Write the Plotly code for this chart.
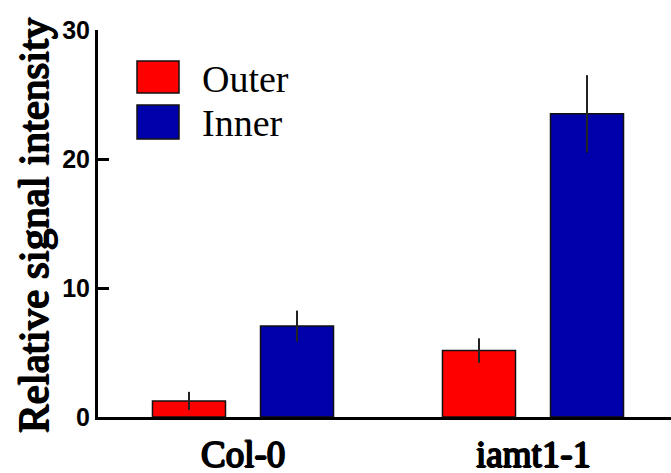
import plotly.graph_objects as go

categories = ["Col-0", "iamt1-1"]
series_names = ["Outer", "Inner"]
outer_values = [1.25, 5.15]
outer_errors = [0.7, 0.95]
inner_values = [7.05, 23.5]
inner_errors = [1.2, 3.0]
colors = ["#FF0000", "#0000AA"]
y_ticks = [0, 10, 20, 30]

W, H = 671, 473
ML, MR, MT, MB = 98, 0, 30, 56
PW, PH = W - ML - MR, H - MT - MB

def px_x(px):
    return (px - ML) / PW

def px_y(py):
    return (H - MB - py) / PH

# faux-bold for the serif face (its bold face is not picked up reliably)
BOLD_SHADOW = "1px 0px 0px black, -1px 0px 0px black, 0px 0.6px 0px black, 0px -0.6px 0px black"

fig = go.Figure()
for name, vals, errs, col in [
    (series_names[0], outer_values, outer_errors, colors[0]),
    (series_names[1], inner_values, inner_errors, colors[1]),
]:
    fig.add_trace(go.Bar(
        x=categories, y=vals, name=name,
        marker=dict(color=col, line=dict(color="#111111", width=1.5)),
        error_y=dict(type="data", array=errs, visible=True, width=0,
                     thickness=2, color="#222222"),
        showlegend=False,
    ))

# category labels, placed on the category axis
for cat in categories:
    fig.add_annotation(text=cat, xref="x", yref="paper", x=cat, y=px_y(454),
                       xanchor="center", yanchor="middle", showarrow=False,
                       font=dict(family="Liberation Serif", size=37, color="black",
                                 shadow=BOLD_SHADOW))

# large legend swatches like the original
legend_rows = [(61, 93, 79), (105, 139, 123)]
for (top, bot, mid), name, col in zip(legend_rows, series_names, colors):
    fig.add_shape(type="rect", xref="paper", yref="paper",
                  x0=px_x(137), x1=px_x(179), y0=px_y(bot), y1=px_y(top),
                  fillcolor=col, line=dict(color="#111111", width=1.5))
    fig.add_annotation(text=name, xref="paper", yref="paper",
                       x=px_x(200), y=px_y(mid), xanchor="left", yanchor="middle",
                       showarrow=False,
                       font=dict(family="Liberation Serif", size=38, color="black"))

fig.add_annotation(text="Relative signal intensity", xref="paper", yref="paper",
                   x=px_x(33), y=px_y(225), textangle=-90,
                   xanchor="center", yanchor="middle", showarrow=False,
                   font=dict(family="Liberation Serif", size=43, color="black",
                             shadow=BOLD_SHADOW))

fig.update_layout(
    width=W, height=H,
    margin=dict(l=ML, r=MR, t=MT, b=MB, pad=0),
    paper_bgcolor="white", plot_bgcolor="white",
    barmode="group", bargap=0.255, bargroupgap=0.324,
    xaxis=dict(type="category", range=[-0.5, -0.5 + PW / 290.0],
               showline=True, linewidth=3, linecolor="black",
               ticks="", showgrid=False, zeroline=False, showticklabels=False),
    yaxis=dict(range=[0, 30], tickvals=y_ticks, showline=True, linewidth=3,
               linecolor="black", ticks="inside", ticklen=11, tickwidth=3,
               tickcolor="black", showgrid=False, zeroline=False,
               tickfont=dict(family="Liberation Sans", size=25, color="black", weight="bold")),
)

fig.write_html("out.html")
